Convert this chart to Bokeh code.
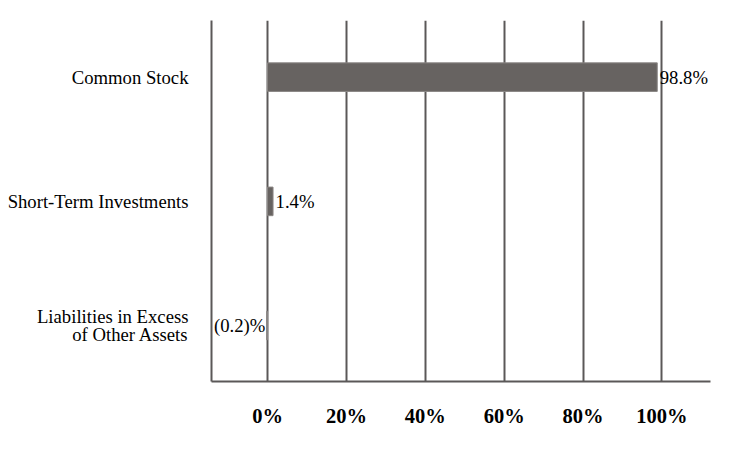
from bokeh.plotting import figure
from bokeh.models import ColumnDataSource, FixedTicker, Range1d
from bokeh.core.properties import value
from bokeh.embed import file_html
from bokeh.resources import INLINE

categories = ["Common Stock", "Short-Term Investments", "Liabilities in Excess\nof Other Assets"]
values = [98.8, 1.4, -0.2]
value_labels = ["98.8%", "1.4%", "(0.2)%"]
x_ticks = [0, 20, 40, 60, 80, 100]
x_tick_labels = ["0%", "20%", "40%", "60%", "80%", "100%"]

X_MIN, X_MAX = -14.2, 112.3
n = len(categories)
ypos = [n - 1 - i for i in range(n)]

label_x = [v if v >= 0 else X_MIN for v in values]

src = ColumnDataSource(dict(y=ypos, v=values, lx=label_x, lab=value_labels))

FONT = "Liberation Serif"
GRID = "#5b5858"
BAR = "#676361"

p = figure(width=740, height=440, output_backend="svg", toolbar_location=None,
           x_range=Range1d(X_MIN, X_MAX), y_range=Range1d(-0.45, n - 1 + 0.456),
           min_border_left=211, min_border_right=30, min_border_top=20, min_border_bottom=59)
p.outline_line_color = None
p.background_fill_color = "white"
p.border_fill_color = "white"

p.hbar(y="y", left=0, right="v", height=0.23, source=src,
       fill_color=BAR, line_color="#8a8684", line_width=1)

p.text(x="lx", y="y", text="lab", source=src, x_offset=2.5,
       text_font=value(FONT), text_font_size="18.7px", text_align="left",
       text_baseline="middle", text_color="black")

# x axis
p.xaxis.ticker = FixedTicker(ticks=x_ticks)
p.xaxis.major_label_overrides = {t: l for t, l in zip(x_ticks, x_tick_labels)}
p.xaxis.major_label_text_font = FONT
p.xaxis.major_label_text_font_style = "bold"
p.xaxis.major_label_text_font_size = "20.5px"
p.xaxis.major_label_text_color = "black"
p.xaxis.major_tick_line_color = None
p.xaxis.minor_tick_line_color = None
p.xaxis.major_label_standoff = 17
p.xaxis.axis_line_color = GRID
p.xaxis.axis_line_width = 2

# y axis
p.yaxis.ticker = FixedTicker(ticks=ypos)
p.yaxis.major_label_overrides = {y: c for y, c in zip(ypos, categories)}
p.yaxis.major_label_text_font = FONT
p.yaxis.major_label_text_font_size = "18.7px"
p.yaxis.major_label_text_line_height = 0.82
p.yaxis.major_label_text_color = "black"
p.yaxis.major_tick_line_color = None
p.yaxis.minor_tick_line_color = None
p.yaxis.major_label_standoff = 17
p.yaxis.axis_line_color = GRID
p.yaxis.axis_line_width = 2

p.xgrid.ticker = FixedTicker(ticks=x_ticks)
p.xgrid.grid_line_color = GRID
p.xgrid.grid_line_width = 2
p.ygrid.grid_line_color = None

open("out.html", "w").write(file_html(p, INLINE))
